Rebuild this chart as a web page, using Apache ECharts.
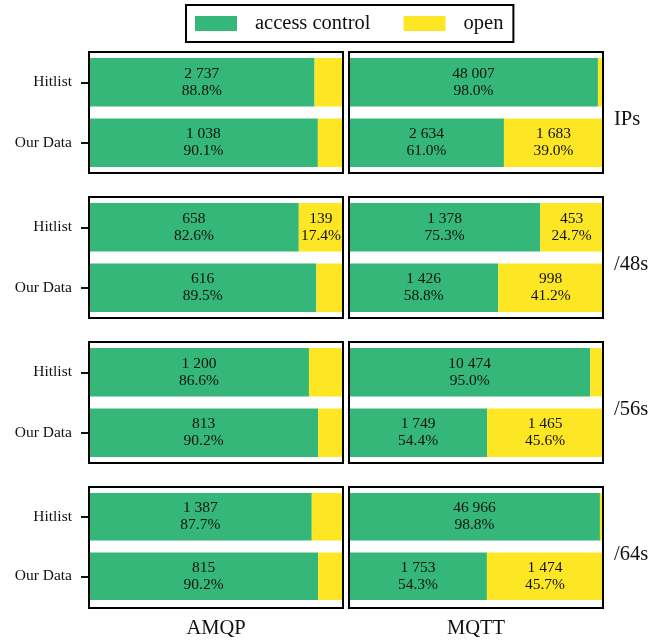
<!DOCTYPE html>
<html>
<head>
<meta charset="utf-8">
<script src="https://cdn.jsdelivr.net/npm/echarts@6/dist/echarts.min.js"></script>
<style>html,body{margin:0;padding:0;background:#fff}#c{width:660px;height:640px}</style>
</head>
<body>
<div id="c"></div>
<script>
// ---- data ----
const protocols = ['AMQP', 'MQTT'];
const groups = ['IPs', '/48s', '/56s', '/64s'];
const sources = ['Hitlist', 'Our Data'];
const seriesNames = ['access control', 'open'];

// [group][source]
const accessCountAMQP = [[2737, 1038], [658, 616], [1200, 813], [1387, 815]];
const accessPctAMQP   = [[88.8, 90.1], [82.6, 89.5], [86.6, 90.2], [87.7, 90.2]];
const openCountAMQP   = [[345, 114], [139, 72], [186, 88], [195, 89]];
const openPctAMQP     = [[11.2, 9.9], [17.4, 10.5], [13.4, 9.8], [12.3, 9.8]];

const accessCountMQTT = [[48007, 2634], [1378, 1426], [10474, 1749], [46966, 1753]];
const accessPctMQTT   = [[98.0, 61.0], [75.3, 58.8], [95.0, 54.4], [98.8, 54.3]];
const openCountMQTT   = [[980, 1683], [453, 998], [551, 1465], [570, 1474]];
const openPctMQTT     = [[2.0, 39.0], [24.7, 41.2], [5.0, 45.6], [1.2, 45.7]];

const colors = ['#35b779', '#fde725'];
const labelMinPct = 15;

// ---- layout ----
const FONT = '"Liberation Serif", "DejaVu Serif", serif';
const colLeft = [89, 349];
const panelW = 254;
const rowTop = [52, 197, 342, 487];
const panelH = 121;

const tables = {
  AMQP: {ac: accessCountAMQP, ap: accessPctAMQP, oc: openCountAMQP, op: openPctAMQP},
  MQTT: {ac: accessCountMQTT, ap: accessPctMQTT, oc: openCountMQTT, op: openPctMQTT}
};

function fmt(n) {
  return String(n).replace(/\B(?=(\d{3})+(?!\d))/g, ' ');
}

const grids = [], xAxes = [], yAxes = [], series = [], titles = [], frames = [];
let gi = 0;
groups.forEach((grp, r) => {
  protocols.forEach((proto, c) => {
    const t = tables[proto];
    grids.push({left: colLeft[c], top: rowTop[r], width: panelW, height: panelH, containLabel: false});
    const bottom = r === groups.length - 1;
    xAxes.push({
      gridIndex: gi, type: 'value', min: 0, max: 100,
      show: bottom,
      axisLine: {show: false}, axisTick: {show: false}, axisLabel: {show: false}, splitLine: {show: false},
      name: bottom ? proto : '', nameLocation: 'middle', nameGap: 12,
      nameTextStyle: {fontFamily: FONT, fontSize: 20.5, color: '#111'}
    });
    yAxes.push({
      gridIndex: gi, type: 'category', data: sources, inverse: true,
      axisLine: {show: false},
      axisTick: {show: c === 0, length: 8, alignWithLabel: true, lineStyle: {color: '#111', width: 2}},
      axisLabel: {show: c === 0, margin: 17, fontFamily: FONT, fontSize: 15.5, color: '#111'},
      splitLine: {show: false}
    });
    const counts = [t.ac[r], t.oc[r]];
    const pcts = [t.ap[r], t.op[r]];
    seriesNames.forEach((name, k) => {
      series.push({
        name: name, type: 'bar', stack: 'g' + gi,
        xAxisIndex: gi, yAxisIndex: gi,
        barWidth: '80%',
        itemStyle: {color: colors[k]},
        data: pcts[k],
        label: {
          show: true, position: 'inside',
          fontFamily: FONT, fontSize: 15.5, color: '#111', lineHeight: 17,
          formatter: (p) => pcts[k][p.dataIndex] >= labelMinPct
            ? fmt(counts[k][p.dataIndex]) + '\n' + pcts[k][p.dataIndex].toFixed(1) + '%'
            : ''
        },
        emphasis: {disabled: true},
        animation: false
      });
    });
    frames.push({
      type: 'rect', z: 100, silent: true,
      shape: {x: colLeft[c], y: rowTop[r], width: panelW, height: panelH},
      style: {fill: 'none', stroke: '#000', lineWidth: 2}
    });
    gi++;
  });
  titles.push({
    text: grp, left: 614, top: rowTop[r] + 57,
    textStyle: {fontFamily: FONT, fontSize: 20.5, fontWeight: 'normal', color: '#111'},
    padding: 0
  });
});

const chart = echarts.init(document.getElementById('c'), null, {renderer: 'canvas'});
chart.setOption({
  animation: false,
  backgroundColor: '#fff',
  title: titles,
  legend: {
    data: seriesNames,
    left: 186, top: 5,
    orient: 'horizontal',
    itemWidth: 42, itemHeight: 15, itemGap: 33,
    padding: [8, 10, 8, 9],
    borderColor: '#000', borderWidth: 2, borderRadius: 0,
    icon: 'rect',
    selectedMode: false,
    textStyle: {fontFamily: FONT, fontSize: 20.5, color: '#111', padding: [0, 0, 0, 13]}
  },
  grid: grids,
  xAxis: xAxes,
  yAxis: yAxes,
  series: series,
  graphic: frames
});
</script>
</body>
</html>
